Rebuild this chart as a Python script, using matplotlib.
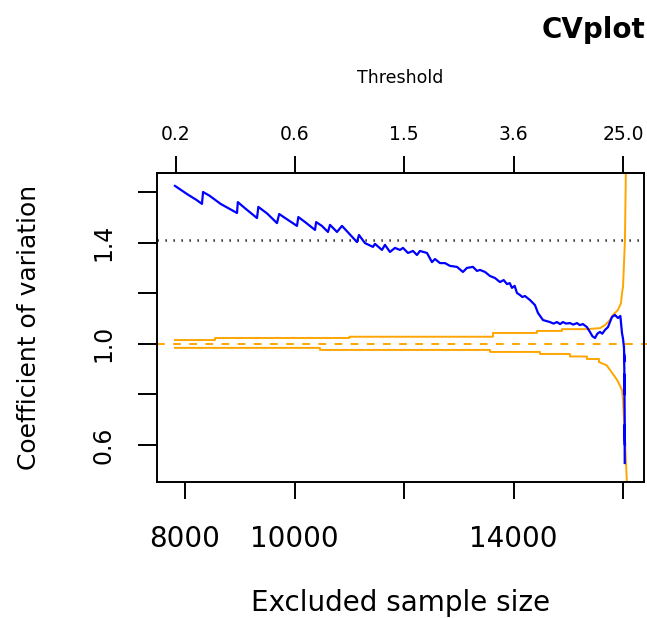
import numpy as np
import matplotlib
matplotlib.use("Agg")
import matplotlib.pyplot as plt

plt.rcParams['font.family'] = ['DejaVu Sans']

# coefficient of variation against excluded sample size
cv_size = [7817, 7900, 8050, 8200, 8310, 8330, 8450, 8650, 8800, 8950,
           8965, 9100, 9315, 9340, 9500, 9680, 9720, 9850, 10045, 10070,
           10200, 10374, 10395, 10500, 10611, 10648, 10776, 10867, 11141, 11177,
           11287, 11433, 11469, 11597, 11652, 11743, 11835, 11926, 11981, 12072,
           12163, 12236, 12291, 12419, 12510, 12565, 12657, 12748, 12839, 12967,
           13076, 13149, 13259, 13332, 13387, 13478, 13570, 13661, 13752, 13820,
           13880, 13930, 13971, 14020, 14062, 14117, 14160, 14208, 14300, 14391,
           14446, 14537, 14600, 14665, 14730, 14793, 14850, 14902, 14960, 15030,
           15090, 15158, 15210, 15267, 15340, 15395, 15440, 15487, 15530, 15578,
           15620, 15670, 15724, 15797, 15852, 15907, 15950, 15980, 15999, 16016,
           16025, 16018, 16030, 16022, 16034, 16028, 16030]
cv_value = [1.624, 1.612, 1.590, 1.570, 1.553, 1.600, 1.585, 1.553, 1.535, 1.517,
            1.560, 1.535, 1.497, 1.541, 1.515, 1.477, 1.513, 1.494, 1.466, 1.501,
            1.480, 1.450, 1.481, 1.466, 1.442, 1.470, 1.442, 1.466, 1.402, 1.430,
            1.398, 1.383, 1.395, 1.371, 1.391, 1.363, 1.379, 1.371, 1.379, 1.359,
            1.367, 1.351, 1.367, 1.359, 1.323, 1.335, 1.319, 1.319, 1.308, 1.304,
            1.284, 1.300, 1.304, 1.288, 1.292, 1.284, 1.268, 1.260, 1.244, 1.252,
            1.236, 1.240, 1.221, 1.229, 1.201, 1.193, 1.185, 1.189, 1.173, 1.153,
            1.122, 1.094, 1.090, 1.086, 1.080, 1.086, 1.078, 1.086, 1.080, 1.082,
            1.076, 1.082, 1.074, 1.078, 1.066, 1.047, 1.030, 1.023, 1.040, 1.047,
            1.040, 1.055, 1.066, 1.106, 1.114, 1.102, 1.110, 1.043, 1.020, 0.987,
            0.930, 0.960, 0.800, 0.880, 0.600, 0.680, 0.529]

# upper and lower bounds around 1
upper_size = [7817, 8548, 8548, 11000, 11000, 13624, 13624, 14427, 14427, 14884,
              14884, 15340, 15580, 15670, 15760, 15815, 15907, 15962, 15980, 15999,
              16034, 16052, 16060]
upper_value = [1.015, 1.015, 1.023, 1.023, 1.028, 1.028, 1.043, 1.043, 1.051, 1.051,
               1.058, 1.058, 1.062, 1.074, 1.094, 1.114, 1.134, 1.161, 1.201, 1.225,
               1.410, 1.700, 2.500]
lower_size = [7817, 10465, 10465, 13570, 13570, 14482, 14482, 15030, 15030, 15340,
              15340, 15560, 15560, 15700, 15761, 15889, 15980, 15999, 16034, 16070,
              16080]
lower_value = [0.984, 0.984, 0.976, 0.976, 0.968, 0.968, 0.960, 0.960, 0.950, 0.950,
               0.940, 0.940, 0.928, 0.915, 0.897, 0.858, 0.818, 0.778, 0.620, 0.450,
               0.200]

cv_ref = 1.41
bottom_ticks = [8000, 10000, 12000, 14000, 16000]
bottom_labels = ["8000", "10000", "", "14000", ""]
left_ticks = [0.6, 0.8, 1.0, 1.2, 1.4, 1.6]
left_labels = ["0.6", "", "1.0", "", "1.4", ""]
thr_ticks = [7830, 10000, 12000, 14000, 16000]
thr_labels = ["0.2", "0.6", "1.5", "3.6", "25.0"]

fig = plt.figure(figsize=(6.47, 6.18), dpi=100)
ax = fig.add_axes([157 / 647, 1 - 482 / 618, 487 / 647, 309 / 618])

ax.plot(upper_size, upper_value, color="#FFA500", lw=1.4)
ax.plot(lower_size, lower_value, color="#FFA500", lw=1.4)
ax.plot([7489, 16437], [1.0, 1.0], color="#FFA500", lw=1.4,
        dashes=(4.0, 4.3), clip_on=False)
ax.axhline(cv_ref, color="black", lw=1.8, dashes=(0.5, 2.7))
ax.plot(cv_size, cv_value, color="#0000FF", lw=1.6)

ax.set_xlim(7489, 16382)
ax.set_ylim(0.454, 1.675)

for s in ax.spines.values():
    s.set_linewidth(1.4)

ax.set_xticks(bottom_ticks)
ax.set_xticklabels(bottom_labels, fontsize=20)
ax.set_yticks(left_ticks)
ax.set_yticklabels(left_labels, fontsize=17, rotation=90, va="center")
ax.tick_params(axis="x", direction="out", length=12, width=1.4, pad=19)
ax.tick_params(axis="y", direction="out", length=14, width=1.4, pad=16)

ax.set_xlabel("Excluded sample size", fontsize=20, labelpad=26)
ax.set_ylabel("Coefficient of variation", fontsize=18, labelpad=36)

top = ax.secondary_xaxis("top")
top.set_xticks(thr_ticks)
top.set_xticklabels(thr_labels, fontsize=13.5)
top.tick_params(direction="out", length=12, width=1.4, pad=9)
top.spines["top"].set_linewidth(1.4)
top.set_xlabel("Threshold", fontsize=12.5, labelpad=30)

fig.text(0.997, 1 - 30 / 618, "CVplot", ha="right", va="center",
         fontsize=20, fontweight="bold")

fig.savefig("out.png", dpi=100)
